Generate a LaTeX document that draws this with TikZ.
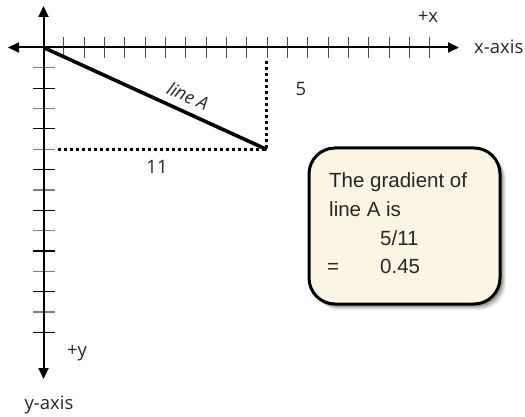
\documentclass[tikz,border=0pt]{standalone}
\usepackage{fontspec}
\setmainfont{Open Sans}
\newfontfamily\boxfont{Liberation Sans}
\usetikzlibrary{arrows.meta}
\definecolor{cream}{HTML}{FBF5E3}
\tikzset{
  axis/.style={line width=2pt, -{Triangle[length=11pt,width=10pt]}},
  tickx/.style={line width=1.2pt, black!70},
  tickydark/.style={line width=1.2pt, black},
  tickylight/.style={line width=1.2pt, black!50},
  dots/.style={line width=3pt, dash pattern=on 3pt off 3pt},
  lbl/.style={font=\fontsize{18.5}{22}\selectfont, inner sep=0pt, text=black!85},
  boxtxt/.style={font=\boxfont\fontsize{20.5}{24}\selectfont, inner sep=0pt, anchor=base west, text=black!85},
}
\begin{document}
\begin{tikzpicture}[x=1pt,y=-1pt]
\useasboundingbox (0,0) rectangle (525,417);
% named points
\coordinate (O) at (43.5,47.5);
\coordinate (xl) at (8,47.5);
\coordinate (xr) at (459,47.5);
\coordinate (yt) at (43.5,6);
\coordinate (yb) at (43.5,379);
\coordinate (P) at (266.8,149.5);
\coordinate (vtop) at (266.8,61);
\coordinate (hleft) at (58,149.5);
% ticks
\foreach \k in {1,...,19}{
  \draw[tickx] ({43.5+20.33*\k},37) -- ({43.5+20.33*\k},58);
}
\foreach \k in {1,...,14}{
  \pgfmathtruncatemacro{\odd}{mod(\k,2)}
  \ifnum\odd=1
    \draw[tickylight] (33,{47.5+20.35*\k}) -- (55,{47.5+20.35*\k});
  \else
    \draw[tickydark] (33,{47.5+20.35*\k}) -- (55,{47.5+20.35*\k});
  \fi
}
% axes
\draw[axis] (O) -- (xr);
\draw[axis] (O) -- (xl);
\draw[axis] (O) -- (yt);
\draw[axis] (O) -- (yb);
% dotted lines
\draw[dots] (vtop) -- (P);
\draw[dots] (hleft) -- (P);
% line A
\draw[line width=3.6pt] (O) -- (P);
% labels
\node[lbl] (px) at (428,17) {+x};
\node[lbl, anchor=west] (xa) at (474,47) {x-axis};
\node[lbl] (five) at (301,89) {5};
\node[lbl] (eleven) at (157,167) {11};
\node[lbl, font=\itshape\fontsize{18}{22}\selectfont, rotate=-24.6] (la) at (188,96) {line A};
\node[lbl] (py) at (77,353) {+y};
\node[lbl] (ya) at (49,405) {y-axis};
% box with shadow
\foreach \s/\o in {6/0.06,5/0.08,4/0.1,3/0.12,2/0.14}{
  \fill[black, opacity=\o, rounded corners=26pt] (309+\s-1,148+\s) rectangle (500+\s,304+\s);
}
\draw[line width=3pt, fill=cream, rounded corners=26pt] (309,148) rectangle (500,304);
\node[boxtxt] (t1) at (329,188) {The gradient of};
\node[boxtxt] (t2) at (329,216.5) {line A is};
\node[boxtxt] (t3) at (380,245) {5/11};
\node[boxtxt] (t4) at (327,273) {=};
\node[boxtxt] (t5) at (380,273) {0.45};
\end{tikzpicture}
\end{document}
